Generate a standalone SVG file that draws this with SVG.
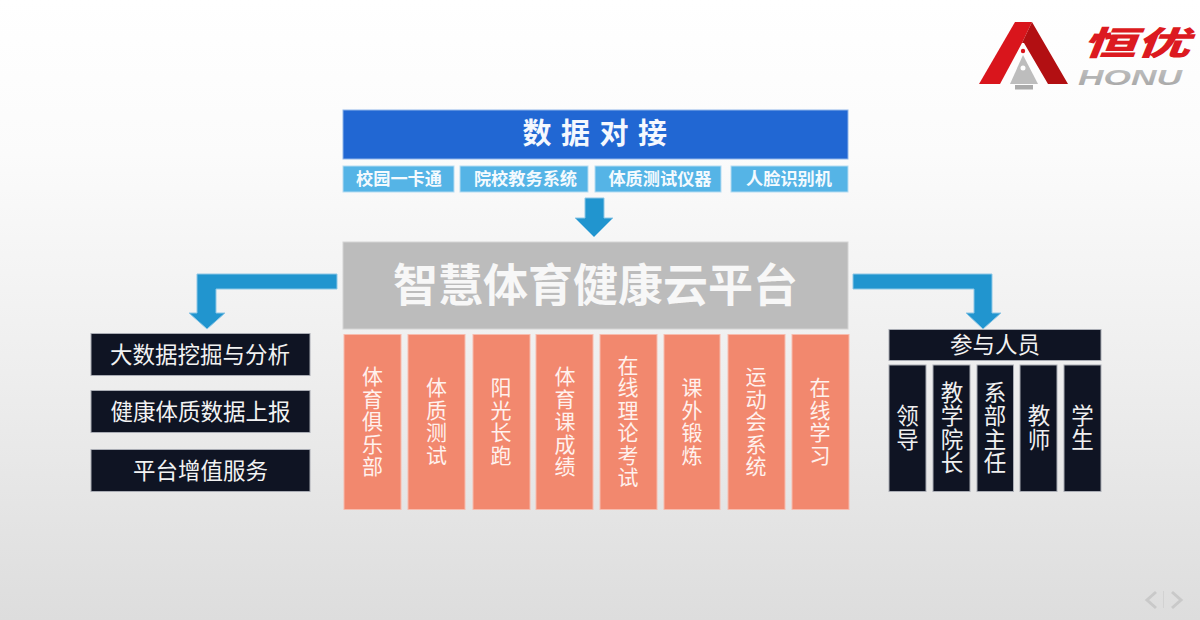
<svg xmlns="http://www.w3.org/2000/svg" width="1200" height="620" viewBox="0 0 1200 620">
<style>
text{font-family:"Noto Sans CJK SC","Noto Sans",sans-serif;text-anchor:middle}
.dark{fill:#0f1423;stroke:#a9acb4;stroke-width:1}
.sub{fill:#55b4e6;stroke:#b5dcf2;stroke-width:1}
.or{fill:#f2886e;stroke:#f7bcae;stroke-width:1}
.arr{fill:#2195cf;stroke:#8ec7e6;stroke-width:1}
.t18{font-size:22.500px;font-weight:400;fill:#f2f2f2}
.v{font-size:21px;font-weight:400;fill:#fff1ed;writing-mode:vertical-rl;text-orientation:upright;letter-spacing:1.500px}
.vd{font-size:22.500px;font-weight:400;fill:#f0f0f0;writing-mode:vertical-rl;text-orientation:upright;letter-spacing:1px}
.s{font-size:17.200px;font-weight:700;fill:#f4fafe}
.nav{fill:none;stroke:#c9c9c9;stroke-width:3}
</style>
<defs>
<linearGradient id="bg" x1="0" y1="0" x2="0" y2="1">
<stop offset="0" stop-color="#ffffff"/><stop offset=".25" stop-color="#fbfbfb"/><stop offset=".6" stop-color="#eeeeee"/><stop offset="1" stop-color="#dddddd"/>
</linearGradient>
<linearGradient id="hg" x1="0" y1="0" x2="0" y2="1"><stop offset="0" stop-color="#c4c4c4"/><stop offset="1" stop-color="#a4a4a4"/></linearGradient>
</defs>
<rect width="1200" height="620" fill="url(#bg)"/>
<g id="logo">
<polygon points="1015,22 1032,22 1022,43 1000,84 979,84" fill="#d9151c"/>
<polygon points="1032,22 1068,84 1048,84 1024,43 1022,43" fill="#b20f12"/>
<circle cx="1023" cy="51" r="2.200" fill="#d9151c"/>
<polygon points="1023,55 1038,84 1010,84" fill="#bdbdbd"/>
<circle cx="1023" cy="68" r="2.500" fill="#ffffff"/>
<rect x="1015" y="85" width="18" height="4.500" fill="#aaaaaa"/>
<text x="1136" y="55" font-size="33" font-weight="900" font-style="italic" fill="#dc1a20" textLength="107" lengthAdjust="spacingAndGlyphs">恒优</text>
<text x="1130" y="84.500" font-size="22.500" font-weight="900" font-style="italic" fill="url(#hg)" textLength="104" lengthAdjust="spacingAndGlyphs" style="font-family:'Liberation Sans',sans-serif">HONU</text>
</g>
<g id="connectors">
<polygon class="arr" points="585,198 604,198 604,218 613,218 594,237 575,218 585,218"/>
<polygon class="arr" points="337,274 337,289 216,289 216,313 225,313 207,329 189,313 197,313 197,274"/>
<polygon class="arr" points="853,274 853,289 974,289 974,313 966,313 983,329 1001,313 992,313 992,274"/>
</g>
<g id="data-header"><rect x="343" y="110" width="505" height="49" fill="#2167d3" stroke="#8fb5ea" stroke-width="1"/><text x="599.500" y="144" font-size="29" font-weight="700" fill="#f4f8fe" letter-spacing="9.500">数据对接</text></g>
<g id="s1"><rect class="sub" x="343" y="166" width="111" height="26"/><text class="s" x="399" y="185">校园一卡通</text></g>
<g id="s2"><rect class="sub" x="460" y="166" width="128" height="26"/><text class="s" x="525.500" y="185">院校教务系统</text></g>
<g id="s3"><rect class="sub" x="595" y="166" width="126" height="26"/><text class="s" x="660" y="185">体质测试仪器</text></g>
<g id="s4"><rect class="sub" x="731" y="166" width="117" height="26"/><text class="s" x="789" y="185">人脸识别机</text></g>
<g id="platform"><rect x="343" y="242" width="505" height="87" fill="#bcbcbc" stroke="#d4d4d4" stroke-width="1"/><text x="595.500" y="302" font-size="45" font-weight="700" fill="#f7f7f7">智慧体育健康云平台</text></g>
<g id="o1"><rect class="or" x="344" y="334.500" width="57" height="175"/><text class="v" x="372.500" y="422">体育俱乐部</text></g>
<g id="o2"><rect class="or" x="408" y="334.500" width="57" height="175"/><text class="v" x="436.500" y="422">体质测试</text></g>
<g id="o3"><rect class="or" x="473" y="334.500" width="57" height="175"/><text class="v" x="501" y="422">阳光长跑</text></g>
<g id="o4"><rect class="or" x="536" y="334.500" width="57" height="175"/><text class="v" x="565" y="422">体育课成绩</text></g>
<g id="o5"><rect class="or" x="600" y="334.500" width="57" height="175"/><text class="v" x="628" y="422">在线理论考试</text></g>
<g id="o6"><rect class="or" x="664" y="334.500" width="56" height="175"/><text class="v" x="692" y="422">课外锻炼</text></g>
<g id="o7"><rect class="or" x="728" y="334.500" width="57" height="175"/><text class="v" x="756" y="422">运动会系统</text></g>
<g id="o8"><rect class="or" x="792" y="334.500" width="57" height="175"/><text class="v" x="820" y="422">在线学习</text></g>
<g id="l1"><rect class="dark" x="91" y="333.500" width="219" height="42"/><text class="t18" x="200" y="362.500">大数据挖掘与分析</text></g>
<g id="l2"><rect class="dark" x="91" y="390.500" width="219" height="42"/><text class="t18" x="200.500" y="419.500">健康体质数据上报</text></g>
<g id="l3"><rect class="dark" x="91" y="449.500" width="219" height="42"/><text class="t18" x="200.500" y="478.500">平台增值服务</text></g>
<g id="r0"><rect class="dark" x="889" y="329.500" width="212" height="31"/><text class="t18" x="995" y="352.500">参与人员</text></g>
<g id="r1"><rect class="dark" x="889" y="365" width="37" height="126.500"/><text class="vd" x="907.500" y="428">领导</text></g>
<g id="r2"><rect class="dark" x="933" y="365" width="37" height="126.500"/><text class="vd" x="952" y="428">教学院长</text></g>
<g id="r3"><rect class="dark" x="977" y="365" width="36.500" height="126.500"/><text class="vd" x="995" y="428">系部主任</text></g>
<g id="r4"><rect class="dark" x="1020" y="365" width="37" height="126.500"/><text class="vd" x="1039" y="428">教师</text></g>
<g id="r5"><rect class="dark" x="1064" y="365" width="37" height="126.500"/><text class="vd" x="1082.500" y="428">学生</text></g>
<g id="nav">
<polyline class="nav" points="1156,592 1147,600 1156,608"/>
<line x1="1163.500" y1="591" x2="1163.500" y2="608" stroke="#d2d2d2" stroke-width="1"/>
<polyline class="nav" points="1172,592 1181,600 1172,608"/>
</g>
</svg>
